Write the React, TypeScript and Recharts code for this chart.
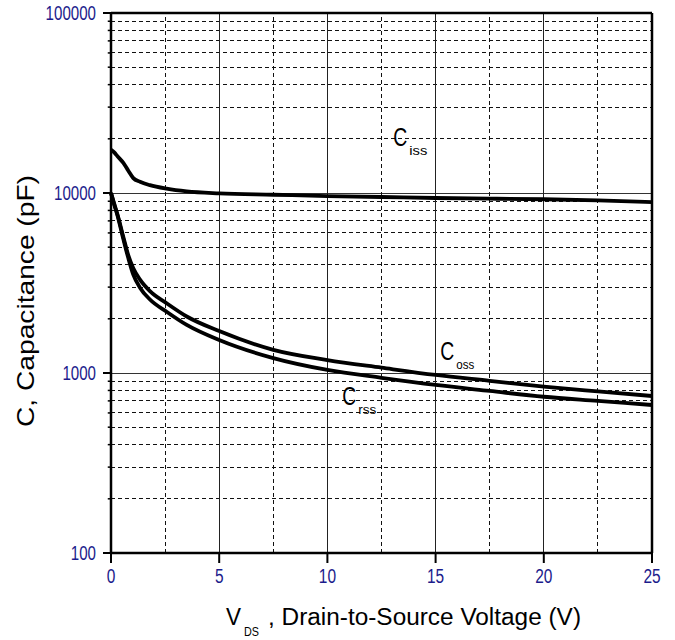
import { LineChart, Line, XAxis, YAxis, ReferenceLine, ReferenceDot, Label } from 'recharts';

// V_DS sample points (V)
const vds = [0, 0.15, 0.3, 0.57, 0.8, 1.03, 1.34, 1.8, 2.57, 3.5, 5, 7.5, 10, 12.5, 15, 17.5, 20, 22.5, 25];
// capacitances (pF)
const ciss = [17400, 16800, 16000, 14700, 13300, 12100, 11550, 11050, 10560, 10200, 9950, 9780, 9620, 9500, 9380, 9300, 9230, 9100, 8900];
const coss = [10000, 8700, 7600, 5700, 4500, 3820, 3300, 2850, 2440, 2060, 1710, 1345, 1180, 1070, 975, 905, 840, 790, 745];
const crss = [10000, 8600, 7500, 5550, 4350, 3520, 2980, 2560, 2190, 1850, 1525, 1210, 1040, 940, 858, 795, 738, 700, 664];

const xTicks = [0, 5, 10, 15, 20, 25];
const xMinorGrid = [2.5, 7.5, 12.5, 17.5, 22.5];
const yTicks = [100, 1000, 10000, 100000];
const yMinorGrid = [
  200, 300, 400, 500, 600, 700, 800, 900,
  2000, 3000, 4000, 5000, 6000, 7000, 8000, 9000,
  20000, 30000, 40000, 50000, 60000, 70000, 80000, 90000,
];

// label anchor points [V, pF]
const curveLabels = [
  { v: 13.37, c: 20400, sub: 'iss' },
  { v: 15.54, c: 1330, sub: 'oss' },
  { v: 11.01, c: 743, sub: 'rss' },
];

const data = vds.map((v, i) => ({ v, ciss: ciss[i], coss: coss[i], crss: crss[i] }));

const FONT = '"Liberation Sans", Arial, sans-serif';
const NAVY = '#1c1c8c';

function YTick({ x, y, payload }: any) {
  const s = String(payload.value);
  return (
    <text x={x} y={y} textAnchor="end" dominantBaseline="central" fill={NAVY} fontFamily={FONT}
      fontSize={20} textLength={s.length * 8.4} lengthAdjust="spacingAndGlyphs">
      {s}
    </text>
  );
}

function XTick({ x, y, payload }: any) {
  const s = String(payload.value);
  return (
    <text x={x} y={y} dy="0.72em" textAnchor="middle" fill={NAVY} fontFamily={FONT}
      fontSize={20} textLength={s.length * 8.6} lengthAdjust="spacingAndGlyphs">
      {s}
    </text>
  );
}

function CurveLabel({ cx, cy, sub }: any) {
  return (
    <g fontFamily={FONT} fill="#000">
      <text x={cx} y={cy} textAnchor="middle" dominantBaseline="central" fontSize={25}
        textLength={14} lengthAdjust="spacingAndGlyphs">C</text>
      <text x={cx + 9} y={cy + 18} fontSize={13} textLength={18} lengthAdjust="spacingAndGlyphs">{sub}</text>
    </g>
  );
}

export default function App() {
  return (
    <div style={{ position: 'absolute', left: 0, top: 0, width: 675, height: 640, background: '#fff' }}>
      <LineChart width={675} height={640} data={data} margin={{ top: 13, right: 23, bottom: 0, left: 0 }}>
        {yMinorGrid.map((g) => (
          <ReferenceLine key={'hy' + g} y={g} stroke="#111" strokeWidth={1} strokeDasharray="4 3"
            shapeRendering="crispEdges" />
        ))}
        {yMinorGrid.map((g) => (
          <ReferenceLine key={'mt' + g} segment={[{ x: -0.15, y: g }, { x: 0, y: g }]} ifOverflow="visible"
            stroke="#000" strokeWidth={1.5} />
        ))}
        {[1000, 10000].map((g) => (
          <ReferenceLine key={'dy' + g} y={g} stroke="#333" strokeWidth={1} shapeRendering="crispEdges" />
        ))}
        {xMinorGrid.map((g) => (
          <ReferenceLine key={'vx' + g} x={g} stroke="#111" strokeWidth={1} strokeDasharray="4 3"
            shapeRendering="crispEdges" />
        ))}
        {[5, 10, 15, 20].map((g) => (
          <ReferenceLine key={'sx' + g} x={g} stroke="#222" strokeWidth={1} shapeRendering="crispEdges" />
        ))}
        <ReferenceLine y={100000} stroke="#000" strokeWidth={2.5} />
        <ReferenceLine x={25} stroke="#000" strokeWidth={2.5} />
        <XAxis
          type="number"
          dataKey="v"
          domain={[0, 25]}
          ticks={xTicks}
          height={87}
          tickSize={10}
          tickMargin={6}
          axisLine={{ stroke: '#000', strokeWidth: 2.5 }}
          tickLine={{ stroke: '#000', strokeWidth: 2 }}
          tick={<XTick />}
        >
          <Label
            content={({ viewBox }: any) => {
              const x0 = viewBox.x;
              return (
                <g fontFamily={FONT} fill="#000">
                  <text x={x0 + 115} y={625} fontSize={24} textLength={15} lengthAdjust="spacingAndGlyphs">V</text>
                  <text x={x0 + 133} y={636} fontSize={12} textLength={15} lengthAdjust="spacingAndGlyphs">DS</text>
                  <text x={x0 + 157} y={625} fontSize={23} textLength={313} lengthAdjust="spacingAndGlyphs">
                    , Drain-to-Source Voltage (V)
                  </text>
                </g>
              );
            }}
          />
        </XAxis>
        <YAxis
          scale="log"
          domain={[100, 100000]}
          ticks={yTicks}
          allowDataOverflow
          width={111}
          tickSize={8}
          tickMargin={7}
          axisLine={{ stroke: '#000', strokeWidth: 2.5 }}
          tickLine={{ stroke: '#000', strokeWidth: 2 }}
          tick={<YTick />}
        >
          <Label
            content={() => (
              <text x={25} y={301} transform="rotate(-90 25 301)" textAnchor="middle" dominantBaseline="central"
                fontFamily={FONT} fontSize={24} textLength={252} lengthAdjust="spacingAndGlyphs" fill="#000">
                C, Capacitance (pF)
              </text>
            )}
          />
        </YAxis>
        <Line dataKey="ciss" type="monotone" stroke="#000" strokeWidth={3.8} dot={false} isAnimationActive={false} />
        <Line dataKey="coss" type="monotone" stroke="#000" strokeWidth={3.8} dot={false} isAnimationActive={false} />
        <Line dataKey="crss" type="monotone" stroke="#000" strokeWidth={3.8} dot={false} isAnimationActive={false} />
        {curveLabels.map((l) => (
          <ReferenceDot key={l.sub} x={l.v} y={l.c} r={0}
            shape={(p: any) => <CurveLabel cx={p.cx} cy={p.cy} sub={l.sub} />} />
        ))}
      </LineChart>
    </div>
  );
}
